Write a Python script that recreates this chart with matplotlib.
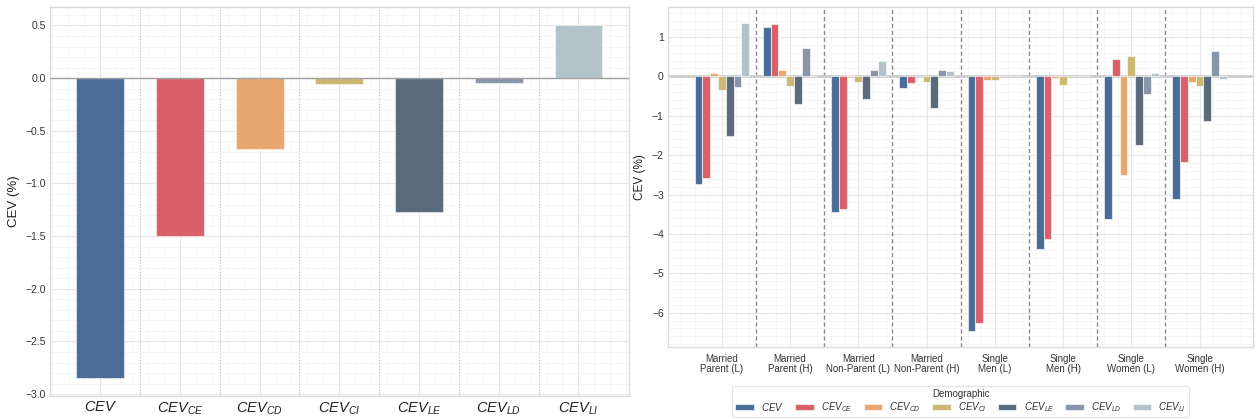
import matplotlib
matplotlib.use("Agg")
import matplotlib.pyplot as plt
import numpy as np
from matplotlib.ticker import AutoMinorLocator, MultipleLocator

plt.rcParams['font.family'] = ['Liberation Sans', 'DejaVu Sans']
plt.rcParams['mathtext.fontset'] = 'custom'
plt.rcParams['mathtext.it'] = 'Liberation Sans:italic'
plt.rcParams['mathtext.rm'] = 'Liberation Sans'
plt.rcParams['mathtext.cal'] = 'Liberation Sans:italic'

# ---------------- data ----------------
components = ["CEV", "CE", "CD", "CI", "LE", "LD", "LI"]
labels = [r"$CEV$", r"$CEV_{CE}$", r"$CEV_{CD}$", r"$CEV_{CI}$",
          r"$CEV_{LE}$", r"$CEV_{LD}$", r"$CEV_{LI}$"]
colors = ["#4a6c98", "#d95f69", "#e8a76e", "#ccb872",
          "#5a6a7c", "#8894a7", "#b2c3ca"]

overall = [-2.85, -1.50, -0.675, -0.055, -1.275, -0.045, 0.505]

groups = ["Married\nParent (L)", "Married\nParent (H)", "Married\nNon-Parent (L)",
          "Married\nNon-Parent (H)", "Single\nMen (L)", "Single\nMen (H)",
          "Single\nWomen (L)", "Single\nWomen (H)"]

cev    = [-2.74, 1.25, -3.45, -0.30, -6.47, -4.39, -3.62, -3.11]
cev_ce = [-2.59, 1.33, -3.36, -0.16, -6.27, -4.13, 0.44, -2.18]
cev_cd = [0.09, 0.16, 0.035, 0.0, -0.085, -0.05, -2.51, -0.14]
cev_ci = [-0.36, -0.25, -0.14, -0.14, -0.10, -0.22, 0.52, -0.25]
cev_le = [-1.51, -0.70, -0.585, -0.81, 0.0, 0.0, -1.755, -1.14]
cev_ld = [-0.28, 0.71, 0.16, 0.17, 0.0, 0.0, -0.45, 0.645]
cev_li = [1.36, 0.0, 0.40, 0.145, 0.0, 0.0, 0.085, -0.06]
series = [cev, cev_ce, cev_cd, cev_ci, cev_le, cev_ld, cev_li]

# ---------------- figure ----------------
fig = plt.figure(figsize=(12.56, 4.19), dpi=100)
ax1 = fig.add_axes([0.0398, 0.0549, 0.4607, 0.9277])
ax2 = fig.add_axes([0.5318, 0.1726, 0.4662, 0.8100])

def style_axes(ax):
    ax.set_facecolor("white")
    for s in ax.spines.values():
        s.set_color("#dcdcdc")
        s.set_linewidth(1.0)
    ax.xaxis.set_minor_locator(AutoMinorLocator(5))
    ax.yaxis.set_minor_locator(AutoMinorLocator(5))
    ax.grid(which="major", color="#e6e6e6", linewidth=0.8, zorder=0)
    ax.grid(which="minor", color="#f3f3f3", linewidth=0.5, zorder=0)
    ax.set_axisbelow(True)
    ax.tick_params(which="both", length=0)
    ax.tick_params(axis="y", colors="#333333")

# ---- left panel ----
style_axes(ax1)
x1 = np.arange(len(components))
ax1.bar(x1, overall, width=0.6, color=colors, edgecolor=(1, 1, 1, 0.5),
        linewidth=0.8, zorder=3)
ax1.axhline(0, color="#a0a0a0", linewidth=1.0, zorder=4)
for i in range(len(components) - 1):
    ax1.axvline(i + 0.5, color="#bdbdbd", linestyle=":", linewidth=0.8, zorder=1)
ax1.yaxis.set_major_locator(MultipleLocator(0.5))
ax1.yaxis.set_minor_locator(AutoMinorLocator(5))
ax1.set_xticks(x1)
ax1.set_xticklabels(labels, fontsize=10.5)
ax1.tick_params(axis="x", pad=3, colors="#222222")
ax1.tick_params(axis="y", labelsize=7.5, pad=3)
ax1.set_ylabel("CEV (%)", fontsize=9.5, color="#222222", labelpad=4)

# ---- right panel ----
style_axes(ax2)
n = len(series)
width = 0.8 / n
x2 = np.arange(len(groups))
for k, (vals, col, lab) in enumerate(zip(series, colors, labels)):
    offs = (k - (n - 1) / 2) * width
    ax2.bar(x2 + offs, vals, width=width, color=col, edgecolor=(1, 1, 1, 0.6),
            linewidth=0.8, label=lab, zorder=3)
ax2.axhline(0, color="#cccccc", linewidth=2.0, zorder=2)
for i in range(len(groups) - 1):
    ax2.axvline(i + 0.5, color="#8a8a8a", linestyle=(0, (3, 2)), linewidth=1.0, zorder=1)
ax2.yaxis.set_major_locator(MultipleLocator(1))
ax2.yaxis.set_minor_locator(AutoMinorLocator(5))
ax2.set_xticks(x2)
ax2.set_xticklabels(groups, fontsize=7, color="#333333", linespacing=1.1)
ax2.tick_params(axis="x", pad=5)
ax2.tick_params(axis="y", labelsize=7.5, pad=3)
ax2.set_ylabel("CEV (%)", fontsize=8.5, color="#222222", labelpad=4)

leg = ax2.legend(title="Demographic", loc="upper center",
                 bbox_to_anchor=(0.5, -0.115), borderaxespad=0.0, ncol=7,
                 fontsize=7, title_fontsize=7, frameon=True, fancybox=True,
                 handlelength=1.9, handleheight=0.65, columnspacing=1.15,
                 handletextpad=0.75, borderpad=0.3, labelspacing=0.2)
leg.get_frame().set_edgecolor("#dddddd")
leg.get_frame().set_linewidth(0.8)
leg.get_title().set_color("#333333")
for t in leg.get_texts():
    t.set_color("#333333")

fig.savefig("out.png", dpi=100)
